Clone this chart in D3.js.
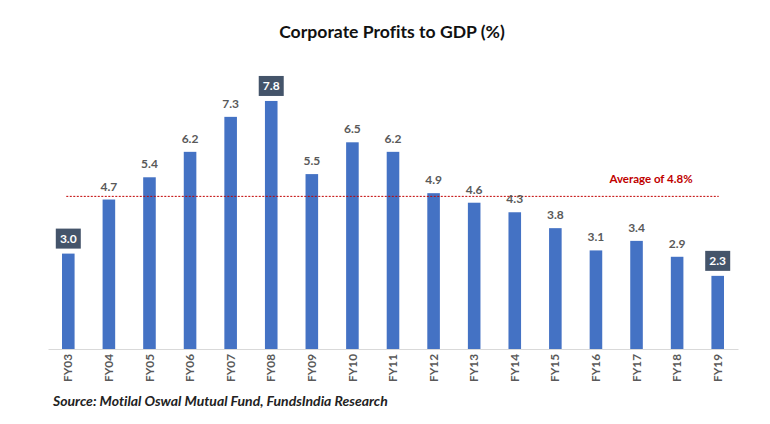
<!DOCTYPE html>
<html><head><meta charset="utf-8">
<script src="https://cdn.jsdelivr.net/npm/d3@7"></script>
<style>body{margin:0;background:#fff} text{font-variant-ligatures:none}</style>
</head><body>
<script>
const categories = ["FY03","FY04","FY05","FY06","FY07","FY08","FY09","FY10","FY11","FY12","FY13","FY14","FY15","FY16","FY17","FY18","FY19"];
const values = [3.0,4.7,5.4,6.2,7.3,7.8,5.5,6.5,6.2,4.9,4.6,4.3,3.8,3.1,3.4,2.9,2.3];
const highlighted = ["FY03","FY08","FY19"];
const average = 4.8;
const averageLabel = "Average of 4.8%";
const title = "Corporate Profits to GDP (%)";
const source = "Source: Motilal Oswal Mutual Fund, FundsIndia Research";

const W = 770, H = 424;
const font = "Lato, 'Open Sans', sans-serif";
const svg = d3.select("body").append("svg").attr("width", W).attr("height", H);

const x = d3.scaleBand().domain(categories).range([48, 738]).paddingInner(0.69).paddingOuter(0.345);
const y = d3.scaleLinear().domain([0, 8]).range([349, 349 - 8 * 31.8]);

svg.append("text").attr("x", 392).attr("y", 38).attr("text-anchor", "middle")
  .attr("font-family", font).attr("font-weight", 700).attr("font-size", 17.6).attr("fill", "#111")
  .text(title);

// bars
svg.selectAll("rect.bar").data(values).join("rect").attr("class", "bar")
  .attr("x", (d, i) => x(categories[i])).attr("width", x.bandwidth())
  .attr("y", d => y(d)).attr("height", d => y(0) - y(d)).attr("fill", "#4472c4");

// axis
const ax = svg.append("g").attr("transform", `translate(0,${y(0)})`)
  .call(d3.axisBottom(x).tickSize(0).tickPadding(0));
ax.select(".domain").attr("stroke", "#d9d9d9").attr("stroke-width", 1.2);
ax.selectAll(".tick text").attr("transform", "rotate(-90)")
  .attr("text-anchor", "end").attr("x", -5).attr("y", 0).attr("dy", "0.35em")
  .attr("font-family", font).attr("font-weight", 700).attr("font-size", 11.8).attr("fill", "#595959");

// average line
const xc = c => x(c) + x.bandwidth() / 2;
svg.append("line").attr("x1", xc(categories[0]) - 2).attr("x2", xc(categories[categories.length - 1]) + 1)
  .attr("y1", y(average)).attr("y2", y(average))
  .attr("stroke", "#c00000").attr("stroke-width", 1).attr("stroke-dasharray", "2,1.5");
svg.append("text").attr("x", 651).attr("y", 183).attr("text-anchor", "middle")
  .attr("font-family", font).attr("font-weight", 700).attr("font-size", 11.5).attr("fill", "#c00000")
  .text(averageLabel);

// labels
values.forEach((v, i) => {
  const c = categories[i];
  const cx = xc(c);
  if (highlighted.includes(c)) {
    svg.append("rect").attr("x", cx - 12.5).attr("y", y(v) - 25).attr("width", 25).attr("height", 20)
      .attr("fill", "#44546a");
    svg.append("text").attr("x", cx).attr("y", y(v) - 10.5).attr("text-anchor", "middle")
      .attr("font-family", font).attr("font-weight", 700).attr("font-size", 12).attr("fill", "#fff")
      .text(v.toFixed(1));
  } else {
    svg.append("text").attr("x", cx).attr("y", y(v) - 9).attr("text-anchor", "middle")
      .attr("font-family", font).attr("font-weight", 700).attr("font-size", 12).attr("fill", "#595959")
      .text(v.toFixed(1));
  }
});

svg.append("text").attr("x", 53).attr("y", 406)
  .attr("font-family", font).attr("font-weight", 700).attr("font-style", "italic").attr("font-size", 14).attr("fill", "#222")
  .text(source);
</script>
</body></html>
